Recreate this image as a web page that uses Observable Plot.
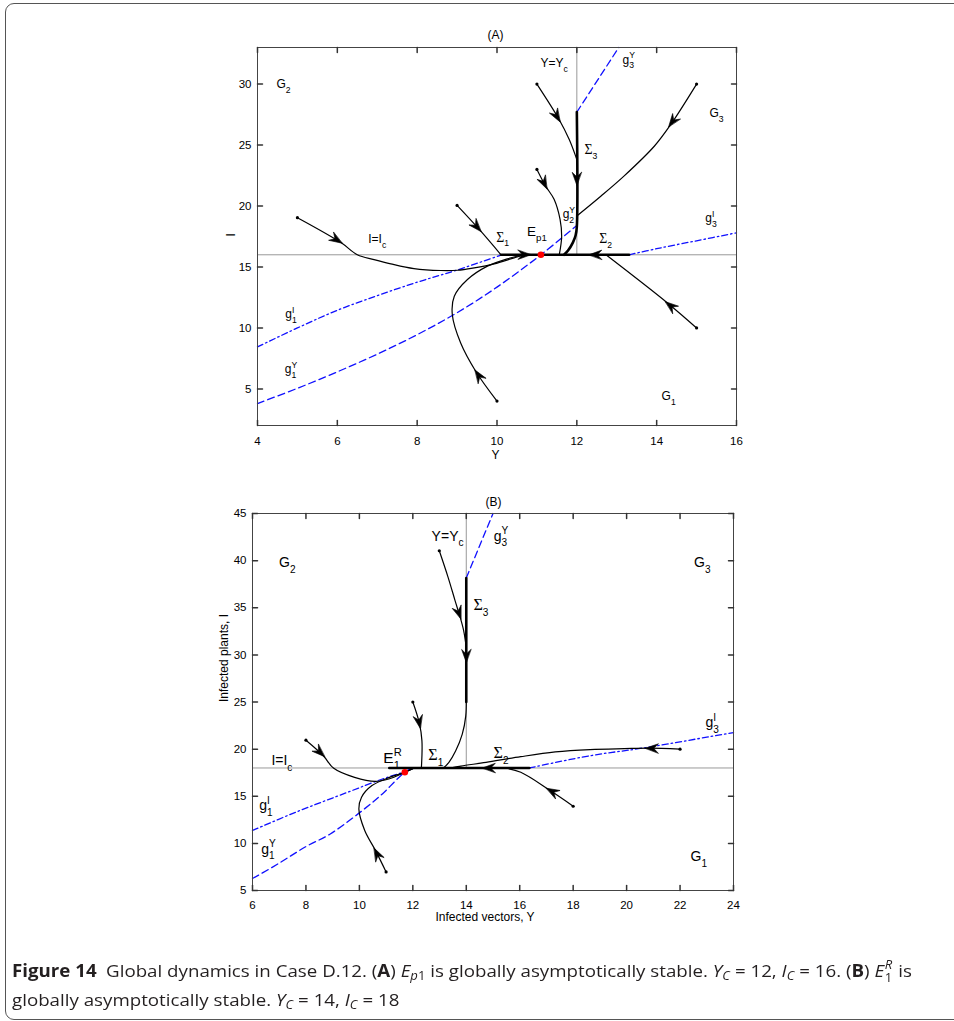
<!DOCTYPE html>
<html><head><meta charset="utf-8">
<script src="https://cdn.jsdelivr.net/npm/d3@7"></script>
<script src="https://cdn.jsdelivr.net/npm/@observablehq/plot@0.6"></script>
<style>
body{margin:0;background:#fff;width:954px;height:1021px;overflow:hidden;position:relative;}
#border{position:absolute;left:5px;top:3px;width:1000px;height:1017px;border:1.5px solid #555;border-radius:9px;box-sizing:border-box;z-index:3;pointer-events:none;}
.panel{position:absolute;left:0;width:954px;}
#cap{position:absolute;left:12px;top:955.5px;width:2000px;font-family:"Open Sans",sans-serif;font-size:17px;line-height:29px;color:#231f20;white-space:nowrap;transform-origin:0 0;}
#cap .ln{position:absolute;left:0;}
#cap sub,#cap sup{font-size:0.7em;line-height:0;position:relative;vertical-align:baseline;}
#cap sub{top:0.3em}
#cap sup{top:-0.5em}
#cap .st{position:relative;display:inline-block;width:0.5em;height:1em;}
#cap .su,#cap .sb{position:absolute;left:0.05em;font-size:0.7em;line-height:0.9;}
#cap .su{top:-1px}
#cap .sb{top:12px}
</style></head><body>
<div id="border"></div>
<div id="pa" class="panel" style="top:0"></div>
<div id="pb" class="panel" style="top:470px"></div>
<div id="cap"><div id="l1" class="ln" style="top:0"><b>Figure 14</b>&ensp;Global dynamics in Case D.12. (<b>A</b>) <i>E</i><sub><i>p</i>1</sub> is globally asymptotically stable. <i>Y</i><sub><i>C</i></sub> = 12, <i>I</i><sub><i>C</i></sub> = 16. (<b>B</b>) <i>E</i><span class="st"><i class="su">R</i><span class="sb">1</span></span> is</div><div id="l2" class="ln" style="top:29px">globally asymptotically stable. <i>Y</i><sub><i>C</i></sub> = 14, <i>I</i><sub><i>C</i></sub> = 18</div></div>
<script>
// ================= Panel A data =================
const A_xTicks = [4, 6, 8, 10, 12, 14, 16];
const A_yTicks = [5, 10, 15, 20, 25, 30];
const A_Yc = 12, A_Ic = 16;
const A_g1Y = [[4,3.8],[5,5.05],[6,6.4],[7,7.85],[8,9.45],[9,11.25],[10,13.35],[11.1,16],[12,18.4]];
const A_g1I = [[4,8.45],[5,10.0],[6,11.45],[7,12.65],[8,13.75],[9,14.75],[10.1,15.98]];
const A_g3I = [[13.31,16],[14,16.5],[15,17.15],[16,17.8]];
const A_g3Y = [[12,27.7],[13.05,33]];
const A_sigH = [[10.1,16],[13.31,16]];
const A_sigV = [[12,27.7],[12,18.3],[11.97,17.6],[11.9,17.0],[11.78,16.35],[11.68,16]];
const A_thin = [];
const A_traj = [
  [[5,19.04],[6.09,17.0],[6.5,16.0],[6.92,15.61],[7.34,15.26],[7.92,14.87],[8.59,14.71],[9.01,14.73],[9.43,14.93],[9.93,15.26],[10.43,15.75],[10.68,15.97],[10.8,16]],
  [[9,20.05],[9.55,18.1],[10.1,16.0]],
  [[10,4],[9.47,6.43],[9.09,8.76],[8.88,11.1],[8.93,12.6],[9.26,13.97],[9.76,15.07],[10.26,15.67],[10.6,15.94],[10.8,16]],
  [[11,23],[11.22,21.63],[11.43,20.55],[11.58,18.9],[11.62,17.5],[11.56,16.0]],
  [[11,30],[11.56,27.08],[11.81,25.45],[11.97,24.09],[12,23.8]],
  [[15,30],[14.35,26.67],[13.94,24.9],[13.18,22.45],[12.6,20.8],[12,19.18]],
  [[15,10],[14.27,12.05],[12.73,16.0]]
];
const A_arrows = [
  {x:6.12,y:16.95,fx:5.9,fy:17.4},
  {x:9.6,y:17.9,fx:9.4,fy:18.65},
  {x:9.45,y:6.55,fx:9.6,fy:5.8},
  {x:11.25,y:21.4,fx:11.1,fy:22.4},
  {x:11.58,y:26.9,fx:11.4,fy:27.9},
  {x:14.3,y:26.5,fx:14.55,fy:27.6},
  {x:14.22,y:12.15,fx:14.45,fy:11.55},
  {x:12,y:21.7,fx:12,fy:23},
  {x:10.85,y:16,fx:10.5,fy:16},
  {x:12.3,y:16,fx:12.7,fy:16}
];
const A_eq = [[11.1,16]];
const A_labels = [
  {x:4.65,y:30.0,t:"G_2"},{x:15.5,y:27.6,t:"G_3"},{x:14.3,y:4.4,t:"G_1"},
  {x:11.43,y:31.7,t:"Y=Y_c"},{x:13.3,y:32.0,t:"g_3^Y"},{x:12.35,y:24.6,t:"Σ_3"},
  {x:11.8,y:19.3,t:"g_2^Y"},{x:10.14,y:17.4,t:"Σ_1"},{x:12.72,y:17.3,t:"Σ_2"},
  {x:7.0,y:17.3,t:"I=I_c"},{x:15.36,y:19.0,t:"g_3^I"},{x:4.84,y:11.1,t:"g_1^I"},{x:4.84,y:6.6,t:"g_1^Y"}
];
const A_bigLabels = [{x:11.0,y:17.9,t:"E_{p1}"}];

// ================= Panel B data =================
const B_xTicks = [6, 8, 10, 12, 14, 16, 18, 20, 22, 24];
const B_yTicks = [5, 10, 15, 20, 25, 30, 35, 40, 45];
const B_Yc = 14, B_Ic = 18;
const B_g1Y = [[6,6.27],[6.97,7.85],[7.97,9.61],[8.91,11.0],[9.95,13.13],[10.86,15.25],[11.7,17.54],[12.05,18]];
const B_g1I = [[6,11.37],[7.62,13.31],[9.56,15.42],[10.86,16.83],[11.63,17.54],[12.05,18]];
const B_g3I = [[16.36,18],[18.63,19.3],[20.57,20.1],[24,21.76]];
const B_g3Y = [[14,38.16],[15.0,45]];
const B_sigH = [[11.12,18],[16.36,18]];
const B_sigV = [[14,38.16],[14,25]];
const B_thin = [[[14,25.5],[13.98,23.5],[13.85,21.6],[13.6,19.8],[13.35,18.6],[13.15,18]]];
const B_traj = [
  [[8,20.95],[8.65,19.3],[9.04,17.96],[9.82,17.0],[10.6,16.58],[11.1,16.83],[11.7,17.54],[12.05,18]],
  [[11,6.97],[10.6,9.26],[10.2,11.37],[9.98,13.66],[10.08,14.9],[10.47,16.13],[11.12,17.0],[11.7,17.54],[12.05,18]],
  [[12,25],[12.24,22.8],[12.34,20.9],[12.32,18]],
  [[12.99,41.05],[13.32,38.23],[13.58,35.76],[13.77,34.0],[13.9,32.6],[14,30.8]],
  [[22,20],[20.83,20.1],[19.92,20.05],[18.63,19.95],[17.33,19.7],[16.04,19.2],[14.74,18.6],[13.8,18.2],[13.4,18]],
  [[18,13.94],[17.14,15.6],[16.04,17.54],[15.45,18]]
];
const B_arrows = [
  {x:8.7,y:19.2,fx:8.4,fy:20},
  {x:10.55,y:9.5,fx:10.8,fy:8.1},
  {x:12.28,y:22.2,fx:12.15,fy:24},
  {x:13.8,y:33.8,fx:13.5,fy:36.2},
  {x:14,y:29.2,fx:14,fy:31},
  {x:20.7,y:20.1,fx:21.5,fy:20.05},
  {x:17.0,y:15.85,fx:17.6,fy:14.9},
  {x:14.6,y:18,fx:15.2,fy:18}
];
const B_eq = [[11.7,17.54]];
const B_labels = [
  {x:7.3,y:39.8,t:"G_2"},{x:22.83,y:39.8,t:"G_3"},{x:22.7,y:8.6,t:"G_1"},
  {x:13.3,y:42.6,t:"Y=Y_c"},{x:15.3,y:42.6,t:"g_3^Y"},{x:14.55,y:35.2,t:"Σ_3"},
  {x:12.86,y:19.3,t:"Σ_1"},{x:15.3,y:19.5,t:"Σ_2"},
  {x:7.1,y:18.8,t:"I=I_c"},{x:23.2,y:22.8,t:"g_3^I"},{x:6.5,y:14.0,t:"g_1^I"},{x:6.6,y:9.4,t:"g_1^Y"}
];
const B_bigLabels = [{x:11.24,y:19.1,t:"E_1^R"}];

// ================= Drawing =================
const W = 954;
const BLUE = "#1010ff";
const tickShape = {draw(ctx, l) { ctx.moveTo(0, 0); ctx.lineTo(0, -l); }};
const headShape = {draw(ctx, l) { const w = l * 0.36; ctx.moveTo(0, -l); ctx.lineTo(w, 0); ctx.lineTo(0, -l * 0.35); ctx.lineTo(-w, 0); ctx.closePath(); }};
const X = d => d[0], Y = d => d[1];

function makePanel(c) {
  const kx = (W - c.ml - c.mr) / (c.xDomain[1] - c.xDomain[0]);
  const ky = (c.h - c.mt - c.mb) / (c.yDomain[1] - c.yDomain[0]);
  const rot = d => Math.atan2((d.x - d.fx) * kx, (d.y - d.fy) * ky) * 180 / Math.PI;
  const marks = [
    Plot.ruleY([c.Ic], {stroke: "#999", strokeWidth: 1}),
    Plot.ruleX([c.Yc], {y1: c.Ic, y2: c.yDomain[1], stroke: "#999", strokeWidth: 1}),
    Plot.line(c.g1Y, {x: X, y: Y, stroke: BLUE, strokeWidth: 1.3, strokeDasharray: "7,4", curve: "catmull-rom"}),
    Plot.line(c.g3Y, {x: X, y: Y, stroke: BLUE, strokeWidth: 1.3, strokeDasharray: "7,4"}),
    Plot.line(c.g1I, {x: X, y: Y, stroke: BLUE, strokeWidth: 1.3, strokeDasharray: "6,3,1.5,3", curve: "catmull-rom"}),
    Plot.line(c.g3I, {x: X, y: Y, stroke: BLUE, strokeWidth: 1.3, strokeDasharray: "6,3,1.5,3", curve: "catmull-rom"}),
    ...c.traj.map(t => Plot.line(t, {x: X, y: Y, stroke: "black", strokeWidth: 1.2, curve: "catmull-rom"})),
    ...c.thin.map(t => Plot.line(t, {x: X, y: Y, stroke: "black", strokeWidth: 1.2, curve: "catmull-rom"})),
    Plot.line(c.sigH, {x: X, y: Y, stroke: "black", strokeWidth: 2.6}),
    Plot.line(c.sigV, {x: X, y: Y, stroke: "black", strokeWidth: 2.6, curve: "catmull-rom"}),
    Plot.vector(c.arrows, {x: "x", y: "y", rotate: rot, length: 13, anchor: "end", shape: headShape, fill: "black", stroke: "black", strokeWidth: 0.6}),
    Plot.dot(c.traj.map(t => t[0]), {x: X, y: Y, r: 1.6, fill: "black"}),
    Plot.dot(c.eq, {x: X, y: Y, r: 3.3, fill: "#ff0000"}),
    Plot.text(c.labels, {x: "x", y: "y", text: "t", fontSize: c.labelSize, fill: "black"}),
    Plot.text(c.bigLabels, {x: "x", y: "y", text: "t", fontSize: c.bigSize, fill: "black"}),
    Plot.frame({stroke: "#444", strokeWidth: 1}),
    Plot.vector(c.xTicks, {x: d => d, y: () => c.yDomain[0], rotate: 0, length: 5, anchor: "start", shape: tickShape, stroke: "#333"}),
    Plot.vector(c.xTicks, {x: d => d, y: () => c.yDomain[1], rotate: 180, length: 5, anchor: "start", shape: tickShape, stroke: "#333"}),
    Plot.vector(c.yTicks, {y: d => d, x: () => c.xDomain[0], rotate: 90, length: 5, anchor: "start", shape: tickShape, stroke: "#333"}),
    Plot.vector(c.yTicks, {y: d => d, x: () => c.xDomain[1], rotate: 270, length: 5, anchor: "start", shape: tickShape, stroke: "#333"}),
    Plot.axisX({ticks: c.xTicks, tickSize: 0, tickPadding: c.xPad, label: null, fontSize: 11.5}),
    Plot.axisY({ticks: c.yTicks, tickSize: 0, tickPadding: 6, label: null, fontSize: 11.5}),
    Plot.text([c.title], {frameAnchor: "top", dy: c.titleDy, dx: c.titleDx, text: d => d, fontSize: 12}),
    Plot.text([c.xLabel], {frameAnchor: "bottom", dy: c.xLabelDy, dx: c.xLabelDx, text: d => d, fontSize: c.axisSize}),
    Plot.text([c.yLabel], {frameAnchor: "left", dx: c.yLabelDx, rotate: -90, text: d => d, fontSize: c.axisSize})
  ];
  return Plot.plot({
    width: W, height: c.h,
    marginLeft: c.ml, marginRight: c.mr, marginTop: c.mt, marginBottom: c.mb,
    x: {domain: c.xDomain}, y: {domain: c.yDomain},
    style: {fontFamily: "'Liberation Sans', Arial, Helvetica, sans-serif", fontSize: "11px", background: "transparent", color: "black"},
    marks
  });
}

// Turn "g_1^Y"-style label strings into real SVG text with sub/superscript tspans
function richify(root) {
  const NS = "http://www.w3.org/2000/svg";
  root.querySelectorAll("text").forEach(t => {
    const s = t.textContent;
    if (!/[_^]/.test(s)) return;
    const holder = t.closest("[font-size]");
    const fs = holder ? parseFloat(holder.getAttribute("font-size")) : 11;
    const toks = [];
    let i = 0, buf = "";
    while (i < s.length) {
      const ch = s[i];
      if (ch === "_" || ch === "^") {
        if (buf) { toks.push({k: "n", t: buf}); buf = ""; }
        let grp;
        if (s[i + 1] === "{") { const j = s.indexOf("}", i + 2); grp = s.slice(i + 2, j); i = j + 1; }
        else { grp = s[i + 1]; i += 2; }
        toks.push({k: ch === "_" ? "sub" : "sup", t: grp});
      } else { buf += ch; i++; }
    }
    if (buf) toks.push({k: "n", t: buf});
    while (t.firstChild) t.removeChild(t.firstChild);
    let cur = 0, prev = null;
    for (const tok of toks) {
      const ts = document.createElementNS(NS, "tspan");
      ts.textContent = tok.t;
      const target = tok.k === "sub" ? 0.4 * fs : tok.k === "sup" ? -0.45 * fs : 0;
      if (tok.k !== "n") ts.setAttribute("font-size", (0.72 * fs).toFixed(2) + "px");
      if (/Σ/.test(tok.t)) {
        ts.setAttribute("font-family", "'Liberation Serif','DejaVu Serif',serif");
        ts.setAttribute("font-size", (1.15 * fs).toFixed(2) + "px");
      }
      if (Math.abs(target - cur) > 1e-6) ts.setAttribute("dy", (target - cur).toFixed(2));
      t.appendChild(ts);
      if (tok.k === "sup" && prev && prev.k === "sub") ts.setAttribute("dx", (-prev.el.getComputedTextLength()).toFixed(2));
      cur = target;
      prev = {k: tok.k, el: ts};
    }
  });
}

const plotA = makePanel({
  xDomain: [4, 16], yDomain: [2, 33], xTicks: A_xTicks, yTicks: A_yTicks,
  ml: 257, mr: 218, mt: 47, mb: 45, h: 470, xPad: 11,
  Yc: A_Yc, Ic: A_Ic, g1Y: A_g1Y, g1I: A_g1I, g3I: A_g3I, g3Y: A_g3Y,
  sigH: A_sigH, sigV: A_sigV, thin: A_thin, traj: A_traj, arrows: A_arrows, eq: A_eq,
  labels: A_labels, bigLabels: A_bigLabels, labelSize: 12, bigSize: 13.5,
  title: "(A)", titleDy: -17, titleDx: -1.5, xLabel: "Y", xLabelDy: 33, xLabelDx: -1.5,
  yLabel: "I", yLabelDx: -26, axisSize: 12
});
const plotB = makePanel({
  xDomain: [6, 24], yDomain: [5, 45], xTicks: B_xTicks, yTicks: B_yTicks,
  ml: 252, mr: 221, mt: 43, mb: 50, h: 470, xPad: 10,
  Yc: B_Yc, Ic: B_Ic, g1Y: B_g1Y, g1I: B_g1I, g3I: B_g3I, g3Y: B_g3Y,
  sigH: B_sigH, sigV: B_sigV, thin: B_thin, traj: B_traj, arrows: B_arrows, eq: B_eq,
  labels: B_labels, bigLabels: B_bigLabels, labelSize: 14, bigSize: 15.5,
  title: "(B)", titleDy: -16, titleDx: 0.5, xLabel: "Infected vectors, Y", xLabelDy: 30, xLabelDx: -8,
  yLabel: "Infected plants, I", yLabelDx: -28, axisSize: 12
});
document.getElementById("pa").appendChild(plotA);
document.getElementById("pb").appendChild(plotB);
richify(plotA);
richify(plotB);

// fit caption line 1 to its width in the reference (x 12 → 912)
const cap = document.getElementById("cap");
const l1 = document.getElementById("l1");
const l1w = l1.getBoundingClientRect().width;
cap.style.transform = `scaleX(${900 / l1w})`;
</script>
</body></html>
